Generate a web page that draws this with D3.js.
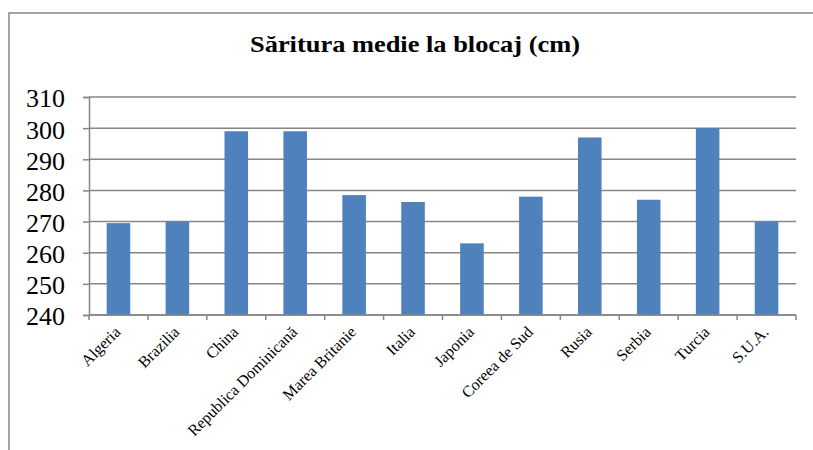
<!DOCTYPE html>
<html>
<head>
<meta charset="utf-8">
<script src="https://cdn.jsdelivr.net/npm/d3@7"></script>
<style>
  body { margin: 0; background: #fff; }
</style>
</head>
<body>
<svg id="chart" width="813" height="450"></svg>
<script>
// data
var countries = ["Algeria", "Brazilia", "China", "Republica Dominicană", "Marea Britanie",
                 "Italia", "Japonia", "Coreea de Sud", "Rusia", "Serbia", "Turcia", "S.U.A."];
var jumps = [269.5, 270, 299, 299, 278.5, 276.3, 263, 278, 297, 277, 300, 270];
var yTicks = [240, 250, 260, 270, 280, 290, 300, 310];
var title = "Săritura medie la blocaj (cm)";

var svg = d3.select('#chart'),
    margin = {top: 97, right: 17, bottom: 135, left: 89},
    width = 813 - margin.left - margin.right,
    height = 450 - margin.top - margin.bottom;

var axisColor = "#868686";
var serif = '"Liberation Serif", "Times New Roman", serif';

// outer chart border (cropped on right/bottom)
svg.append("path")
    .attr("d", "M9,450 L9,13 L813,13")
    .attr("fill", "none")
    .attr("stroke", axisColor)
    .attr("stroke-width", 1.5);

svg.append("text")
    .attr("x", 415)
    .attr("y", 52)
    .attr("text-anchor", "middle")
    .attr("textLength", 330)
    .attr("lengthAdjust", "spacingAndGlyphs")
    .style("font-family", serif)
    .style("font-weight", "bold")
    .style("font-size", "24px")
    .text(title);

var g = svg.append("g").attr("transform", "translate(" + margin.left + "," + margin.top + ")");

var x = d3.scaleBand()
    .domain(countries)
    .range([0, width])
    .paddingInner(0.6)
    .paddingOuter(0.3);

var y = d3.scaleLinear()
    .domain([240, 310])
    .range([height, 0]);

// gridlines
g.append("g")
    .selectAll("line")
    .data(yTicks)
    .enter().append("line")
      .attr("x1", 0)
      .attr("x2", width)
      .attr("y1", function(d) { return y(d); })
      .attr("y2", function(d) { return y(d); })
      .attr("stroke", axisColor)
      .attr("stroke-width", 1.5);

// bars
g.selectAll(".bar")
    .data(jumps)
    .enter().append("rect")
      .attr("class", "bar")
      .attr("x", function(d, i) { return x(countries[i]); })
      .attr("width", x.bandwidth())
      .attr("y", function(d) { return y(d); })
      .attr("height", function(d) { return height - y(d); })
      .attr("fill", "#4F81BD");

// y axis
var yAxis = g.append("g")
    .call(d3.axisLeft(y).tickValues(yTicks).tickSize(6).tickPadding(18));
yAxis.select(".domain").attr("stroke", axisColor).attr("stroke-width", 1.5);
yAxis.selectAll(".tick line").attr("stroke", axisColor).attr("stroke-width", 1.5);
yAxis.selectAll("text")
    .style("font-family", serif)
    .style("font-size", "26px")
    .attr("fill", "#000")
    .attr("dy", "0.38em");

// x axis: ticks on band boundaries
var boundaries = d3.range(countries.length + 1).map(function(i) { return i * width / countries.length; });
var xg = g.append("g").attr("transform", "translate(0," + height + ")");
xg.append("line")
    .attr("x1", 0).attr("x2", width)
    .attr("stroke", axisColor).attr("stroke-width", 1.5);
xg.selectAll(".tk")
    .data(boundaries)
    .enter().append("line")
      .attr("class", "tk")
      .attr("x1", function(d) { return d; })
      .attr("x2", function(d) { return d; })
      .attr("y1", 0).attr("y2", 5)
      .attr("stroke", axisColor).attr("stroke-width", 1.5);

xg.selectAll(".lbl")
    .data(countries)
    .enter().append("text")
      .attr("class", "lbl")
      .attr("text-anchor", "end")
      .style("font-family", serif)
      .style("font-size", "16px")
      .attr("fill", "#000")
      .attr("transform", function(d) {
          var cx = x(d) + x.bandwidth() / 2 + 3;
          return "translate(" + cx + ",18) rotate(-45)";
      })
      .text(function(d) { return d; });
</script>
</body>
</html>
